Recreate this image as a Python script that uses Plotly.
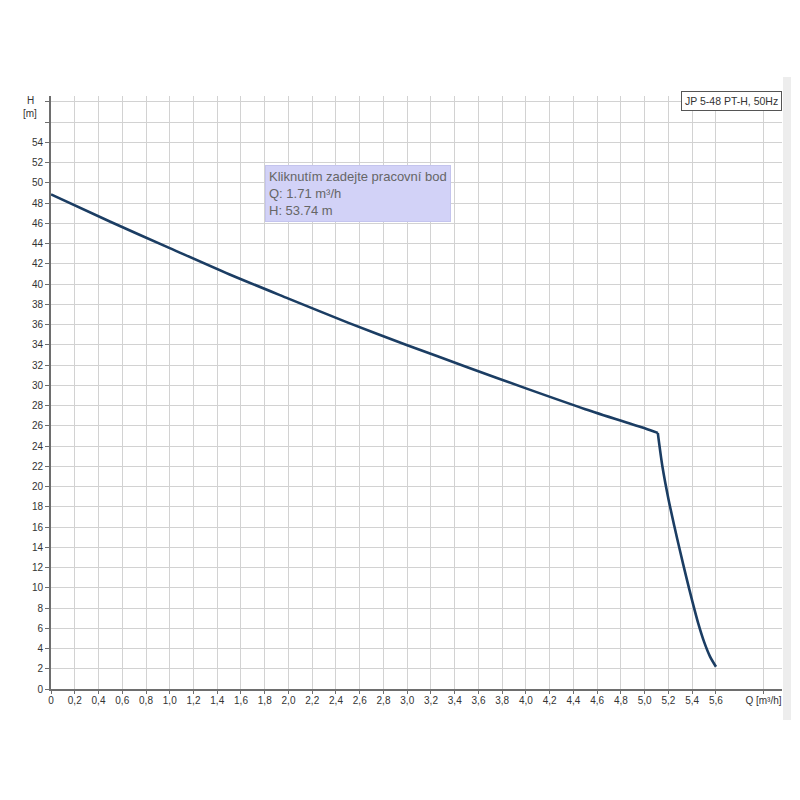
import plotly.graph_objects as go

# Pump curve (H vs Q): flat-ish part and steep drop part (share the knee point)
q_main = [0, 0.5, 1.0, 1.5, 2.0, 2.5, 3.0, 3.5, 4.0, 4.5, 5.0, 5.11]
h_main = [48.85, 46.15, 43.55, 40.97, 38.56, 36.19, 33.96, 31.81, 29.69, 27.64, 25.75, 25.3]
q_drop = [5.11, 5.15, 5.2, 5.25, 5.3, 5.35, 5.4, 5.45, 5.5, 5.55, 5.6]
h_drop = [25.3, 21.9, 18.75, 16.05, 13.5, 11.05, 8.7, 6.5, 4.65, 3.2, 2.2]

x_tickvals = [round(0.2 * i, 1) for i in range(29)] + [6.0]
x_ticktext = [f"{v:.1f}".replace(".", ",") if v != 0 else "0" for v in x_tickvals[:-1]] + ["Q [m³/h]"]
y_tickvals = list(range(0, 60, 2))
y_ticktext = [str(v) if v <= 54 else "" for v in y_tickvals]

info_lines = ["Kliknutím zadejte pracovní bod", "Q: 1.71 m³/h", "H: 53.74 m"]
series_name = "JP 5-48 PT-H, 50Hz"

LINE = dict(color="#1b3d63", width=2.6, shape="spline", smoothing=0.8)

fig = go.Figure()
fig.add_trace(go.Scatter(x=q_main, y=h_main, mode="lines", line=LINE,
                         name=series_name, showlegend=False, hoverinfo="skip"))
fig.add_trace(go.Scatter(x=q_drop, y=h_drop, mode="lines", line=LINE,
                         name=series_name, showlegend=False, hoverinfo="skip"))

axis_common = dict(showgrid=True, gridcolor="#d2d2d2", gridwidth=1,
                   showline=True, linecolor="#6e6e6e", linewidth=2,
                   ticks="outside", tickcolor="#6e6e6e",
                   tickfont=dict(family="Arial, Liberation Sans", size=10, color="#333"),
                   zeroline=False, fixedrange=True, automargin=False)

fig.update_xaxes(range=[0, 6.156], tickmode="array", tickvals=x_tickvals,
                 ticktext=x_ticktext, ticklen=3, ticklabelstandoff=-2, **axis_common)
fig.update_yaxes(range=[0, 58.57], tickmode="array", tickvals=y_tickvals,
                 ticktext=y_ticktext, ticklen=4, **axis_common)

# page body adds an 8px offset, so figure coords = screen coords - 8
OFF = 8
L, R, T, B = 51 - OFF, 782 - OFF, 96 - OFF, 689 - OFF
W = R - L
H = B - T

def px(x):
    return (x - OFF - L) / W

def py(y):
    return (B - (y - OFF)) / H

fig.update_layout(
    width=800, height=800,
    margin=dict(l=L, r=800 - R, t=T, b=800 - B),
    plot_bgcolor="white", paper_bgcolor="white",
    font=dict(family="Arial, Liberation Sans", size=10, color="#333"),
    shapes=[
        dict(type="rect", xref="paper", yref="paper",
             x0=px(783), x1=px(791), y0=py(720), y1=py(77),
             fillcolor="#ededed", line=dict(width=0), layer="below"),
    ],
    annotations=[
        dict(xref="paper", yref="paper", x=px(30), y=py(101), text="H",
             showarrow=False, xanchor="center", yanchor="middle",
             font=dict(size=10, color="#333")),
        dict(xref="paper", yref="paper", x=px(30), y=py(113), text="[m]",
             showarrow=False, xanchor="center", yanchor="middle",
             font=dict(size=10, color="#333")),
        dict(xref="paper", yref="paper", x=px(782), y=py(101), text=series_name,
             showarrow=False, xanchor="right", yanchor="middle",
             bgcolor="white", bordercolor="#555", borderwidth=1, borderpad=3,
             font=dict(size=10.5, color="#333")),
        dict(xref="paper", yref="paper", x=px(265), y=py(165),
             text="<br>".join(info_lines), align="left",
             showarrow=False, xanchor="left", yanchor="top",
             bgcolor="#d2d2f7", bordercolor="#c4c4ee", borderwidth=1, borderpad=3,
             font=dict(size=13, color="#666")),
    ],
)

fig.write_html("out.html")
